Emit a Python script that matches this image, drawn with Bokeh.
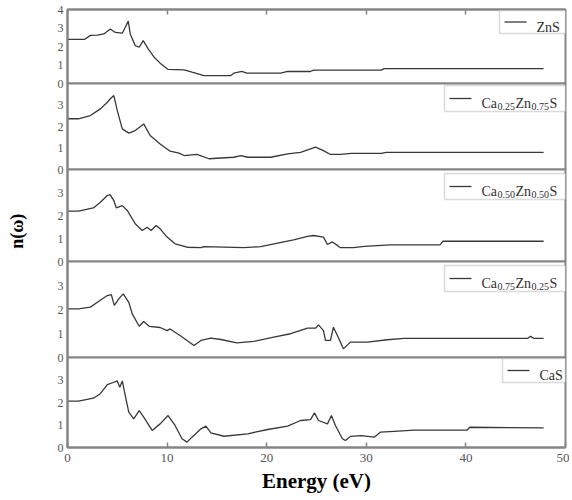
from bokeh.plotting import figure
from bokeh.models import Range1d, LinearAxis, FixedTicker, Label, BoxAnnotation
from bokeh.layouts import column
from bokeh.embed import file_html
from bokeh.resources import INLINE

# ---------------- data ----------------
e_zns = [0, 1.7, 2.3, 3.0, 3.65, 4.3, 4.8, 5.5, 5.8, 6.1, 6.3, 6.8, 7.2, 7.6, 8.1, 8.7, 9.3, 10.1,
         11.7, 12.5, 13.7, 16.4, 16.7, 17.5, 18.0, 21.4, 22.1, 24.4, 24.7, 31.5, 31.8, 47.8]
n_zns = [2.38, 2.38, 2.6, 2.62, 2.68, 2.95, 2.76, 2.72, 3.04, 3.37, 2.68, 2.05, 1.96, 2.32, 1.87, 1.42, 1.1, 0.76,
         0.74, 0.61, 0.43, 0.43, 0.56, 0.65, 0.56, 0.56, 0.65, 0.65, 0.72, 0.72, 0.80, 0.80]

e_x25 = [0, 1.1, 2.3, 3.3, 4.0, 4.3, 4.65, 5.0, 5.5, 6.15, 6.8, 7.65, 8.3, 9.3, 10.3, 11.2, 11.7, 13.0, 14.2,
         16.7, 17.4, 18.1, 20.4, 22.1, 23.4, 24.9, 25.7, 26.4, 27.4, 28.5, 31.5, 32.0, 47.8]
n_x25 = [2.36, 2.36, 2.51, 2.82, 3.13, 3.29, 3.44, 2.74, 1.89, 1.69, 1.81, 2.12, 1.58, 1.19, 0.85, 0.76, 0.65, 0.70, 0.50,
         0.57, 0.65, 0.57, 0.57, 0.73, 0.80, 1.04, 0.88, 0.70, 0.70, 0.75, 0.75, 0.80, 0.80]

e_x50 = [0, 1.1, 2.6, 3.3, 4.0, 4.3, 4.65, 4.9, 5.5, 6.0, 6.8, 7.5, 8.0, 8.4, 8.9, 9.3, 10.0, 10.8, 12.0, 13.4,
         13.7, 17.7, 19.4, 21.1, 22.7, 24.1, 24.7, 25.7, 26.1, 26.6, 27.1, 27.4, 28.7, 29.8, 32.4, 37.4, 37.7, 47.8]
n_x50 = [2.19, 2.19, 2.33, 2.58, 2.87, 2.90, 2.65, 2.33, 2.43, 2.22, 1.64, 1.35, 1.49, 1.35, 1.57, 1.42, 1.06, 0.77, 0.62, 0.60,
         0.65, 0.60, 0.65, 0.80, 0.94, 1.09, 1.13, 1.06, 0.74, 0.85, 0.70, 0.60, 0.60, 0.66, 0.72, 0.72, 0.88, 0.88]

e_x75 = [0, 1.1, 2.3, 3.0, 4.0, 4.4, 4.7, 5.15, 5.6, 6.15, 6.5, 7.2, 7.65, 8.2, 9.3, 10.0, 10.3, 11.3, 12.7, 13.4,
         14.4, 15.4, 17.0, 18.7, 20.7, 22.4, 24.1, 24.9, 25.2, 25.7, 25.9, 26.4, 26.7, 27.1, 27.7, 28.4, 30.1, 32.1,
         33.8, 35.0, 46.2, 46.5, 46.8, 47.8]
n_x75 = [2.03, 2.03, 2.10, 2.30, 2.58, 2.62, 2.17, 2.44, 2.65, 2.30, 1.82, 1.30, 1.50, 1.30, 1.25, 1.12, 1.19, 0.92, 0.50, 0.71,
         0.81, 0.75, 0.61, 0.67, 0.85, 0.99, 1.22, 1.22, 1.36, 1.12, 0.71, 0.71, 1.26, 0.92, 0.36, 0.64, 0.64, 0.74,
         0.80, 0.80, 0.80, 0.88, 0.80, 0.80]

e_cas = [0, 1.1, 2.6, 3.3, 4.0, 4.65, 5.0, 5.25, 5.5, 5.8, 6.15, 6.65, 7.2, 7.65, 8.5, 9.3, 10.1, 10.8, 11.5, 12.0,
         12.5, 13.4, 13.9, 14.4, 15.7, 18.1, 20.1, 22.1, 23.4, 24.4, 24.8, 25.2, 26.1, 26.5, 26.9, 27.6, 27.9, 28.4,
         29.5, 30.8, 31.4, 32.8, 34.8, 40.1, 40.4, 47.8]
n_cas = [2.06, 2.06, 2.19, 2.39, 2.79, 2.90, 2.96, 2.68, 2.96, 2.31, 1.57, 1.27, 1.64, 1.35, 0.76, 1.05, 1.42, 0.98, 0.39, 0.24,
         0.46, 0.83, 0.95, 0.65, 0.50, 0.61, 0.80, 0.95, 1.20, 1.24, 1.54, 1.20, 1.05, 1.42, 0.98, 0.39, 0.31, 0.49,
         0.53, 0.46, 0.68, 0.72, 0.77, 0.77, 0.90, 0.87]

# legend texts: (piece, is_subscript)
leg_zns = [("ZnS", False)]
leg_x25 = [("Ca", False), ("0.25", True), ("Zn", False), ("0.75", True), ("S", False)]
leg_x50 = [("Ca", False), ("0.50", True), ("Zn", False), ("0.50", True), ("S", False)]
leg_x75 = [("Ca", False), ("0.75", True), ("Zn", False), ("0.25", True), ("S", False)]
leg_cas = [("CaS", False)]

x_ticks = [0, 10, 20, 30, 40, 50]
top_minor_ticks = [10, 20, 30, 40]
y_ticks_top = [0, 1, 2, 3, 4]
y_ticks = [0, 1, 2, 3]

# ---------------- styling ----------------
SERIF = "Liberation Serif"
FRAME_C = "#858585"
LINE_C = "#383838"
FW = 498
GAP = 8  # transparent border above/below each panel frame (overlapped)
CW = {'C': 0.667, 'a': 0.444, 'Z': 0.611, 'n': 0.5, 'S': 0.556, '0': 0.5, '2': 0.5,
      '5': 0.5, '7': 0.5, '.': 0.25}
MAIN_FS, SUB_FS = 14, 10

panels = [
    dict(e=e_zns, n=n_zns, h=74, yt=y_ticks_top, leg=leg_zns, box=(66, 1, 23)),
    dict(e=e_x25, n=n_x25, h=86, yt=y_ticks, leg=leg_x25, box=(121, 2, 26)),
    dict(e=e_x50, n=n_x50, h=92, yt=y_ticks, leg=leg_x50, box=(121, 4, 26)),
    dict(e=e_x75, n=n_x75, h=96, yt=y_ticks, leg=leg_x75, box=(121, 4, 26)),
    dict(e=e_cas, n=n_cas, h=90, yt=y_ticks, leg=leg_cas, box=(63, 1, 24)),
]


def add_legend(p, h, pieces, box):
    w_px, top_px, bh_px = box
    sx = 50.0 / FW
    sy = 4.0 / h
    left = 50 - w_px * sx
    top = 4 - top_px * sy
    bottom = 4 - (top_px + bh_px) * sy
    p.add_layout(BoxAnnotation(left=left, right=50, top=top, bottom=bottom,
                               fill_color="white", fill_alpha=1.0,
                               line_color=FRAME_C, line_width=1.5))
    yc = (top + bottom) / 2
    x0 = left + 5 * sx
    x1 = x0 + 22 * sx
    r = p.segment(x0=[x0], y0=[yc], x1=[x1], y1=[yc], line_color=LINE_C, line_width=1.3)
    r.level = "overlay"
    off = 37.0
    for txt, sub in pieces:
        fs = SUB_FS if sub else MAIN_FS
        p.add_layout(Label(x=left, y=yc, x_offset=off, y_offset=(-8 if sub else -5),
                           text=txt, text_font=SERIF, text_font_size=f"{fs}px",
                           text_color="#303030", text_baseline="alphabetic", text_align="left"))
        off += sum(CW.get(c, 0.5) for c in txt) * fs + 0.5


figs = []
xr = Range1d(0, 50)
n_p = len(panels)
for i, pd in enumerate(panels):
    first = i == 0
    last = i == n_p - 1
    p = figure(frame_width=FW, frame_height=pd["h"], x_range=xr, y_range=Range1d(0, 4),
               x_axis_location="below" if last else None,
               output_backend="svg", toolbar_location=None,
               min_border_left=67, min_border_right=4,
               min_border_top=9 if first else GAP,
               min_border_bottom=50 if last else GAP,
               background_fill_color="white", border_fill_alpha=0.0,
               margin=(0, 0, 0, 0) if first else (-2 * GAP, 0, 0, 0))
    p.grid.visible = False
    p.outline_line_color = FRAME_C
    p.outline_line_width = 2

    ya = p.yaxis[0]
    ya.ticker = FixedTicker(ticks=pd["yt"])
    ya.major_tick_in = 0
    ya.major_tick_out = 0
    ya.minor_tick_in = 0
    ya.minor_tick_out = 0
    ya.axis_line_color = FRAME_C
    ya.axis_line_width = 2
    ya.major_label_text_font = SERIF
    ya.major_label_text_font_size = "12px"
    ya.major_label_text_color = "#555555"
    ya.major_label_standoff = 4

    if i == 2:
        ya.axis_label = "n(ω)" + "\u00a0" * 7
        ya.axis_label_text_font = SERIF
        ya.axis_label_text_font_size = "18px"
        ya.axis_label_text_font_style = "bold"
        ya.axis_label_text_color = "black"
        ya.axis_label_standoff = 28

    if first:
        ta = LinearAxis(ticker=FixedTicker(ticks=[], minor_ticks=top_minor_ticks),
                        major_tick_in=0, major_tick_out=0,
                        minor_tick_in=5, minor_tick_out=0,
                        minor_tick_line_color=FRAME_C, minor_tick_line_width=1.5,
                        axis_line_color=FRAME_C, axis_line_width=2)
        p.add_layout(ta, "above")
    if last:
        xa = p.xaxis[0]
        xa.ticker = FixedTicker(ticks=x_ticks)
        xa.major_tick_in = 5
        xa.major_tick_out = 0
        xa.minor_tick_in = 0
        xa.minor_tick_out = 0
        xa.major_tick_line_color = FRAME_C
        xa.major_tick_line_width = 1.5
        xa.axis_line_color = FRAME_C
        xa.axis_line_width = 2
        xa.major_label_text_font = SERIF
        xa.major_label_text_font_size = "13px"
        xa.major_label_text_color = "#555555"
        xa.major_label_standoff = 6
        xa.axis_label = "Energy (eV)"
        xa.axis_label_text_font = SERIF
        xa.axis_label_text_font_size = "21px"
        xa.axis_label_text_font_style = "bold"
        xa.axis_label_text_color = "black"
        xa.axis_label_standoff = 4

    p.line(pd["e"], pd["n"], line_color=LINE_C, line_width=1.3)
    add_legend(p, pd["h"], pd["leg"], pd["box"])
    figs.append(p)

layout = column(*figs, spacing=0)
open("out.html", "w").write(file_html(layout, INLINE))
